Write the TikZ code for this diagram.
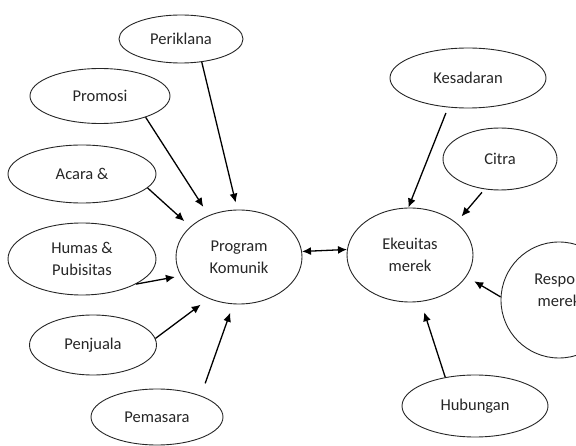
\documentclass[tikz,border=0pt]{standalone}
\usepackage{fontspec}
\setmainfont{Carlito}
\usepackage{tikz}
\usetikzlibrary{shapes.geometric,arrows.meta}

\begin{document}
\begin{tikzpicture}[x=1pt, y=-1pt,
  bubble/.style={draw=black!85, line width=0.9pt, ellipse, inner sep=0pt, align=center,
    text=black!85, font=\fontsize{16.5}{22}\selectfont},
  arr/.style={-{Latex[length=9pt,width=8pt]}, line width=1.3pt}]
\useasboundingbox (0,0) rectangle (576,446);
\clip (0,0) rectangle (576,446);
% left side
\node [bubble, minimum width=124, minimum height=48] (periklana) at (181,39) {Periklana};
\node [bubble, minimum width=140, minimum height=55] (promosi) at (100,96) {Promosi};
\node [bubble, minimum width=148, minimum height=58] (acara) at (82,174) {Acara \&};
\node [bubble, minimum width=148, minimum height=72] (humas) at (82,259) {Humas \&\\Pubisitas};
\node [bubble, minimum width=127, minimum height=60] (penjuala) at (93,345) {Penjuala};
\node [bubble, minimum width=132, minimum height=56] (pemasara) at (157,417) {Pemasara};
\node [bubble, minimum width=126, minimum height=94] (program) at (239,257) {Program\\Komunik};
% right side
\node [bubble, minimum width=126, minimum height=94] (ekeuitas) at (410,255) {Ekeuitas\\merek};
\node [bubble, minimum width=156, minimum height=60] (kesadaran) at (468,78) {Kesadaran};
\node [bubble, minimum width=114, minimum height=62] (citra) at (500,159) {Citra};
\node [bubble, minimum width=116, minimum height=116, text depth=20pt] (respon) at (559,300) {Respon\\merek};
\node [bubble, minimum width=146, minimum height=62] (hubungan) at (475,406) {Hubungan};
% arrows into program
\draw [arr] (periklana.-48) -- ([yshift=7]program.94);
\draw [arr, shorten >=10pt] (promosi.-25) -- (program.126.5);
\draw [arr, shorten >=8pt] (acara.-12) -- (program.148);
\draw [arr, shorten >=6pt] (humas.-25.7) -- (program.198);
\draw [arr, shorten >=10pt] (penjuala.6) -- (program.234);
\draw [arr, shorten <=13pt, shorten >=9pt] (pemasara.26) -- (program.263);
\draw [{Latex[length=9pt,width=8pt]}-{Latex[length=9pt,width=8pt]}, line width=1.3pt] (program.5) -- (ekeuitas.175);
% arrows into ekeuitas
\draw [arr, shorten <=6pt] (kesadaran.236) -- (ekeuitas.92.4);
\draw [arr, shorten <=4pt, shorten >=8pt] (citra.243.4) -- (ekeuitas.35.4);
\draw [arr, shorten >=9pt] (respon.177) -- (ekeuitas.-21);
\draw [arr, shorten >=11pt] (hubungan.136) -- (ekeuitas.-77.2);
\end{tikzpicture}
\end{document}
